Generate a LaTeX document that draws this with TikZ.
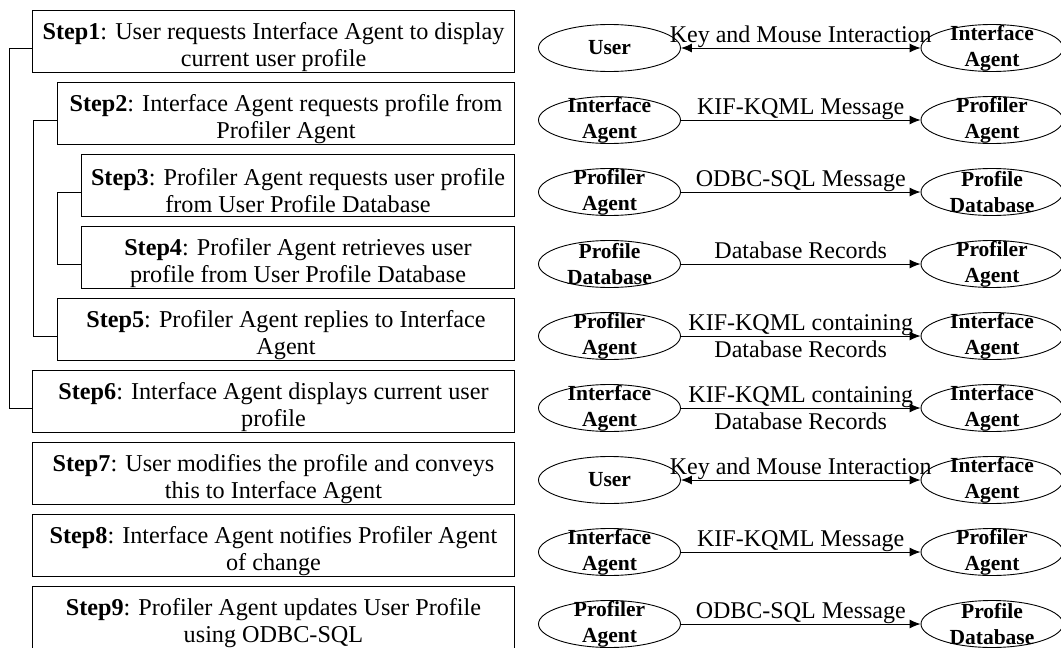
\documentclass[tikz,border=0pt]{standalone}
\usepackage{fontspec}
\setmainfont{Liberation Serif}
\usetikzlibrary{shapes.geometric,arrows.meta}

\tikzset{
  stepbox/.style={draw, line width=1pt, minimum height=62pt, inner sep=0pt, anchor=east},
  steptext/.style={align=center, inner sep=0pt, font=\fontsize{24.2}{27}\selectfont},
  agent/.style={draw, ellipse, line width=0.9pt, minimum width=142pt, minimum height=47pt, inner sep=0pt},
  agenttext/.style={align=center, inner sep=0pt, font=\fontsize{21.5}{26}\selectfont\bfseries},
  msg/.style={midway, above, inner sep=0pt, text depth=5pt, font=\fontsize{24}{25}\selectfont},
  msgtwo/.style={midway, align=center, inner sep=0pt, yshift=-0.5pt, font=\fontsize{24}{27}\selectfont},
  link/.style={line width=0.9pt, -{Latex[length=11pt,width=9pt]}},
  twoway/.style={line width=0.9pt, {Latex[length=11pt,width=9pt]}-{Latex[length=11pt,width=9pt]}},
  bracket/.style={line width=1pt}
}

\begin{document}
\begin{tikzpicture}[x=1pt, y=-1pt]
   \useasboundingbox (0,0) rectangle (1061,648);
   % step boxes
   \foreach \i / \w in {1/482pt, 2/457pt, 3/433pt, 4/433pt, 5/457pt,
                        6/482pt, 7/482pt, 8/482pt, 9/482pt} {
      \node[stepbox, minimum width=\w] (s\i) at (515, 41+72*\i-72) {};
   }
   \node[steptext] (t1) at ([yshift=-6pt]s1.center) {\textbf{Step1}: User requests Interface Agent to display\\current user profile};
   \node[steptext] (t2) at ([yshift=-6pt]s2.center) {\textbf{Step2}: Interface Agent requests profile from\\Profiler Agent};
   \node[steptext] (t3) at ([yshift=-6pt]s3.center) {\textbf{Step3}: Profiler Agent requests user profile\\from User Profile Database};
   \node[steptext] (t4) at ([yshift=-6pt]s4.center) {\textbf{Step4}: Profiler Agent retrieves user\\profile from User Profile Database};
   \node[steptext] (t5) at ([yshift=-6pt]s5.center) {\textbf{Step5}: Profiler Agent replies to Interface\\Agent};
   \node[steptext] (t6) at ([yshift=-6pt]s6.center) {\textbf{Step6}: Interface Agent displays current user\\profile};
   \node[steptext] (t7) at ([yshift=-6pt]s7.center) {\textbf{Step7}: User modifies the profile and conveys\\this to Interface Agent};
   \node[steptext] (t8) at ([yshift=-6pt]s8.center) {\textbf{Step8}: Interface Agent notifies Profiler Agent\\of change};
   \node[steptext] (t9) at ([yshift=-6pt]s9.center) {\textbf{Step9}: Profiler Agent updates User Profile\\using ODBC-SQL};

   % agents
   \foreach \i / \u / \v in {
         1/User/Interface\\Agent,
         2/Interface\\Agent/Profiler\\Agent,
         3/Profiler\\Agent/Profile\\Database,
         4/Profile\\Database/Profiler\\Agent,
         5/Profiler\\Agent/Interface\\Agent,
         6/Interface\\Agent/Interface\\Agent,
         7/User/Interface\\Agent,
         8/Interface\\Agent/Profiler\\Agent,
         9/Profiler\\Agent/Profile\\Database} {
      \node[agent] (a\i) at (609.5, 48+72*\i-72) {};
      \node[agenttext] (ua\i) at (a\i) {\u};
      \node[agent] (b\i) at (992, 48+72*\i-72) {};
      \node[agenttext] (ub\i) at (b\i) {\v};
   }

   % messages
   \draw[twoway] (a1) -- (b1) node[msg] {Key and Mouse Interaction};
   \draw[link] (a2) -- (b2) node[msg] {KIF-KQML Message};
   \draw[link] (a3) -- (b3) node[msg] {ODBC-SQL Message};
   \draw[link] (a4) -- (b4) node[msg] {Database Records};
   \draw[link] (a5) -- (b5) node[msgtwo] {KIF-KQML containing\\Database Records};
   \draw[link] (a6) -- (b6) node[msgtwo] {KIF-KQML containing\\Database Records};
   \draw[twoway] (a7) -- (b7) node[msg] {Key and Mouse Interaction};
   \draw[link] (a8) -- (b8) node[msg] {KIF-KQML Message};
   \draw[link] (a9) -- (b9) node[msg] {ODBC-SQL Message};

   % brackets
   \draw[bracket] (s1.west |- a1) -- ++(-23,0) |- (s6.west |- a6);
   \draw[bracket] (s2.west |- a2) -- ++(-24,0) |- (s5.west |- a5);
   \draw[bracket] (s3.west |- a3) -- ++(-24,0) |- (s4.west |- a4);
\end{tikzpicture}
\end{document}
